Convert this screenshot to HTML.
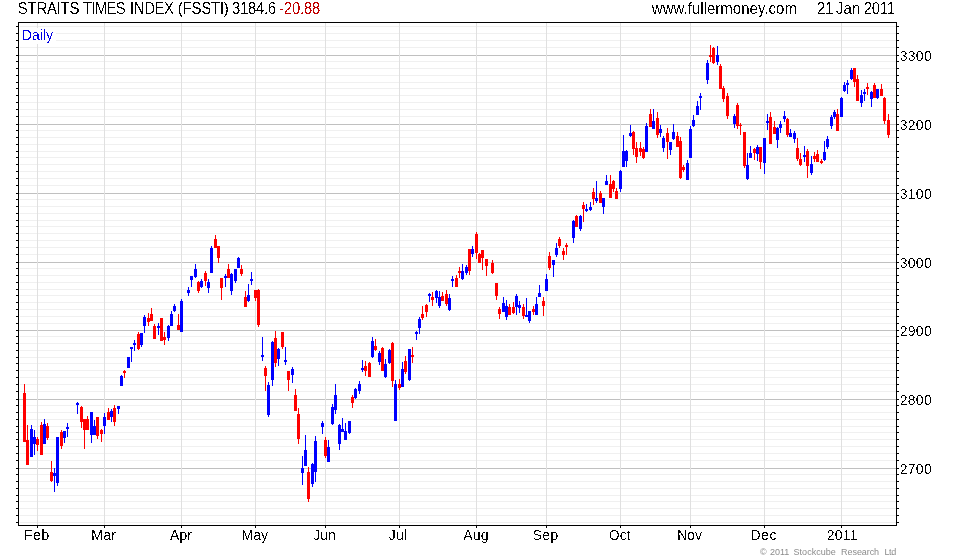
<!DOCTYPE html>
<html lang="en"><head><meta charset="utf-8"><title>STRAITS TIMES INDEX (FSSTI)</title>
<style>
html,body{margin:0;padding:0;background:#fff}
body{width:980px;height:560px;position:relative;overflow:hidden;font-family:"Liberation Sans",sans-serif;font-size:14px;color:#000}
.t{position:absolute;display:block;white-space:nowrap;line-height:20px;height:20px;filter:url(#thr)}
.h{font-size:15px;transform:scaleY(1.07);transform-origin:0 15px}
.a{font-size:14px}
.neg{color:#c00000}
.cp{font-size:9px;color:#8c8c8c;filter:none}
.d{color:#0000e6}
</style></head><body>
<svg width="0" height="0" style="position:absolute"><defs><filter id="thr" x="0" y="0" width="100%" height="100%" color-interpolation-filters="sRGB"><feComponentTransfer><feFuncA type="discrete" tableValues="0 0 0 0 0 0 0 0 0 0 0 1 1 1 1 1 1 1 1 1"/></feComponentTransfer></filter></defs></svg>
<svg width="980" height="560" viewBox="0 0 980 560" shape-rendering="crispEdges" style="position:absolute;left:0;top:0">
<g fill="#f0f0f0">
<rect x="20" y="26" width="876" height="1"/>
<rect x="20" y="33" width="876" height="1"/>
<rect x="20" y="40" width="876" height="1"/>
<rect x="20" y="47" width="876" height="1"/>
<rect x="20" y="61" width="876" height="1"/>
<rect x="20" y="68" width="876" height="1"/>
<rect x="20" y="75" width="876" height="1"/>
<rect x="20" y="82" width="876" height="1"/>
<rect x="20" y="88" width="876" height="1"/>
<rect x="20" y="95" width="876" height="1"/>
<rect x="20" y="102" width="876" height="1"/>
<rect x="20" y="109" width="876" height="1"/>
<rect x="20" y="116" width="876" height="1"/>
<rect x="20" y="130" width="876" height="1"/>
<rect x="20" y="137" width="876" height="1"/>
<rect x="20" y="144" width="876" height="1"/>
<rect x="20" y="151" width="876" height="1"/>
<rect x="20" y="157" width="876" height="1"/>
<rect x="20" y="164" width="876" height="1"/>
<rect x="20" y="171" width="876" height="1"/>
<rect x="20" y="178" width="876" height="1"/>
<rect x="20" y="185" width="876" height="1"/>
<rect x="20" y="199" width="876" height="1"/>
<rect x="20" y="206" width="876" height="1"/>
<rect x="20" y="213" width="876" height="1"/>
<rect x="20" y="220" width="876" height="1"/>
<rect x="20" y="226" width="876" height="1"/>
<rect x="20" y="233" width="876" height="1"/>
<rect x="20" y="240" width="876" height="1"/>
<rect x="20" y="247" width="876" height="1"/>
<rect x="20" y="254" width="876" height="1"/>
<rect x="20" y="268" width="876" height="1"/>
<rect x="20" y="275" width="876" height="1"/>
<rect x="20" y="282" width="876" height="1"/>
<rect x="20" y="289" width="876" height="1"/>
<rect x="20" y="295" width="876" height="1"/>
<rect x="20" y="302" width="876" height="1"/>
<rect x="20" y="309" width="876" height="1"/>
<rect x="20" y="316" width="876" height="1"/>
<rect x="20" y="323" width="876" height="1"/>
<rect x="20" y="336" width="876" height="1"/>
<rect x="20" y="343" width="876" height="1"/>
<rect x="20" y="350" width="876" height="1"/>
<rect x="20" y="357" width="876" height="1"/>
<rect x="20" y="363" width="876" height="1"/>
<rect x="20" y="370" width="876" height="1"/>
<rect x="20" y="377" width="876" height="1"/>
<rect x="20" y="384" width="876" height="1"/>
<rect x="20" y="391" width="876" height="1"/>
<rect x="20" y="405" width="876" height="1"/>
<rect x="20" y="412" width="876" height="1"/>
<rect x="20" y="419" width="876" height="1"/>
<rect x="20" y="426" width="876" height="1"/>
<rect x="20" y="432" width="876" height="1"/>
<rect x="20" y="439" width="876" height="1"/>
<rect x="20" y="446" width="876" height="1"/>
<rect x="20" y="453" width="876" height="1"/>
<rect x="20" y="460" width="876" height="1"/>
<rect x="20" y="474" width="876" height="1"/>
<rect x="20" y="481" width="876" height="1"/>
<rect x="20" y="488" width="876" height="1"/>
<rect x="20" y="495" width="876" height="1"/>
<rect x="20" y="501" width="876" height="1"/>
<rect x="20" y="508" width="876" height="1"/>
<rect x="20" y="515" width="876" height="1"/>
<rect x="20" y="522" width="876" height="1"/>
</g>
<g fill="#c0c0c0">
<rect x="19" y="55" width="877" height="1"/>
<rect x="19" y="124" width="877" height="1"/>
<rect x="19" y="193" width="877" height="1"/>
<rect x="19" y="262" width="877" height="1"/>
<rect x="19" y="330" width="877" height="1"/>
<rect x="19" y="399" width="877" height="1"/>
<rect x="19" y="468" width="877" height="1"/>
</g>
<g fill="#e0e0e0">
<rect x="37" y="23" width="1" height="502"/>
<rect x="104" y="23" width="1" height="502"/>
<rect x="181" y="23" width="1" height="502"/>
<rect x="255" y="23" width="1" height="502"/>
<rect x="325" y="23" width="1" height="502"/>
<rect x="399" y="23" width="1" height="502"/>
<rect x="476" y="23" width="1" height="502"/>
<rect x="546" y="23" width="1" height="502"/>
<rect x="620" y="23" width="1" height="502"/>
<rect x="690" y="23" width="1" height="502"/>
<rect x="764" y="23" width="1" height="502"/>
<rect x="841" y="23" width="1" height="502"/>
</g>
<rect x="19" y="28" width="37" height="16" fill="#fff"/>
<g><path fill="#f00" d="M24 384h1v58h-1zM23 393h3v49h-3z"/>
<path fill="#f00" d="M27 425h1v40h-1zM26 440h3v25h-3z"/>
<path fill="#00f" d="M31 425h1v32h-1zM30 429h3v28h-3z"/>
<path fill="#00f" d="M34 430h1v25h-1zM33 437h3v7h-3z"/>
<path fill="#f00" d="M37 437h1v14h-1zM36 439h3v6h-3z"/>
<path fill="#f00" d="M41 422h1v33h-1zM40 425h3v30h-3z"/>
<path fill="#00f" d="M44 419h1v25h-1zM43 424h3v20h-3z"/>
<path fill="#f00" d="M47 423h1v17h-1zM46 426h3v12h-3z"/>
<path fill="#f00" d="M51 461h1v21h-1zM50 472h3v9h-3z"/>
<path fill="#00f" d="M54 468h1v24h-1zM53 473h3v3h-3z"/>
<path fill="#00f" d="M57 437h1v49h-1zM56 437h3v46h-3z"/>
<path fill="#f00" d="M61 430h1v19h-1zM60 432h3v14h-3z"/>
<path fill="#00f" d="M64 431h1v12h-1zM63 431h3v7h-3z"/>
<path fill="#00f" d="M67 423h1v14h-1zM66 427h3v2h-3z"/>
<path fill="#00f" d="M77 402h1v12h-1zM76 403h3v2h-3z"/>
<path fill="#f00" d="M81 406h1v22h-1zM80 407h3v15h-3z"/>
<path fill="#f00" d="M84 419h1v30h-1zM83 419h3v11h-3z"/>
<path fill="#f00" d="M87 416h1v14h-1zM86 419h3v11h-3z"/>
<path fill="#00f" d="M91 412h1v31h-1zM90 412h3v23h-3z"/>
<path fill="#00f" d="M94 420h1v15h-1zM93 426h3v9h-3z"/>
<path fill="#f00" d="M97 417h1v22h-1zM96 417h3v19h-3z"/>
<path fill="#f00" d="M101 429h1v13h-1zM100 430h3v4h-3z"/>
<path fill="#00f" d="M104 413h1v21h-1zM103 417h3v9h-3z"/>
<path fill="#f00" d="M108 408h1v12h-1zM107 412h3v8h-3z"/>
<path fill="#00f" d="M111 409h1v13h-1zM110 411h3v6h-3z"/>
<path fill="#f00" d="M114 405h1v21h-1zM113 408h3v14h-3z"/>
<path fill="#00f" d="M118 406h1v8h-1zM117 406h3v3h-3z"/>
<path fill="#00f" d="M121 375h1v11h-1zM120 376h3v10h-3z"/>
<path fill="#f00" d="M124 370h1v8h-1zM123 371h3v2h-3z"/>
<path fill="#00f" d="M127 357h3v11h-3z"/>
<path fill="#00f" d="M131 347h1v15h-1zM130 347h3v2h-3z"/>
<path fill="#00f" d="M134 340h1v11h-1zM133 343h3v2h-3z"/>
<path fill="#f00" d="M138 332h1v18h-1zM137 334h3v15h-3z"/>
<path fill="#00f" d="M141 333h1v14h-1zM140 333h3v12h-3z"/>
<path fill="#00f" d="M144 315h1v18h-1zM143 317h3v9h-3z"/>
<path fill="#f00" d="M148 313h1v13h-1zM147 318h3v4h-3z"/>
<path fill="#f00" d="M151 308h1v13h-1zM150 314h3v7h-3z"/>
<path fill="#f00" d="M154 324h1v15h-1zM153 326h3v13h-3z"/>
<path fill="#00f" d="M158 323h1v12h-1zM157 326h3v2h-3z"/>
<path fill="#f00" d="M160 318h3v23h-3z"/>
<path fill="#f00" d="M164 332h1v13h-1zM163 337h3v3h-3z"/>
<path fill="#00f" d="M168 325h1v16h-1zM167 326h3v12h-3z"/>
<path fill="#00f" d="M171 311h1v15h-1zM170 314h3v12h-3z"/>
<path fill="#00f" d="M174 304h1v8h-1zM173 306h3v5h-3z"/>
<path fill="#f00" d="M178 314h1v16h-1zM177 325h3v5h-3z"/>
<path fill="#00f" d="M181 299h1v33h-1zM180 301h3v31h-3z"/>
<path fill="#00f" d="M188 287h1v9h-1zM187 290h3v3h-3z"/>
<path fill="#00f" d="M191 276h1v11h-1zM190 276h3v4h-3z"/>
<path fill="#00f" d="M195 264h1v14h-1zM194 269h3v8h-3z"/>
<path fill="#f00" d="M198 281h1v12h-1zM197 282h3v9h-3z"/>
<path fill="#00f" d="M201 279h1v9h-1zM200 281h3v6h-3z"/>
<path fill="#f00" d="M205 271h1v15h-1zM204 273h3v8h-3z"/>
<path fill="#00f" d="M208 279h1v14h-1zM207 282h3v6h-3z"/>
<path fill="#00f" d="M211 246h1v27h-1zM210 248h3v25h-3z"/>
<path fill="#f00" d="M215 235h1v13h-1zM214 239h3v9h-3z"/>
<path fill="#f00" d="M218 246h1v17h-1zM217 246h3v12h-3z"/>
<path fill="#f00" d="M221 278h1v22h-1zM220 278h3v10h-3z"/>
<path fill="#00f" d="M225 274h1v13h-1zM224 276h3v2h-3z"/>
<path fill="#f00" d="M228 264h1v14h-1zM227 269h3v9h-3z"/>
<path fill="#00f" d="M231 273h1v22h-1zM230 274h3v17h-3z"/>
<path fill="#00f" d="M235 269h1v14h-1zM234 269h3v12h-3z"/>
<path fill="#00f" d="M238 257h1v11h-1zM237 258h3v10h-3z"/>
<path fill="#f00" d="M241 265h1v11h-1zM240 269h3v5h-3z"/>
<path fill="#f00" d="M245 291h1v16h-1zM244 297h3v10h-3z"/>
<path fill="#00f" d="M248 284h1v18h-1zM247 295h3v6h-3z"/>
<path fill="#00f" d="M251 272h1v13h-1zM250 279h3v2h-3z"/>
<path fill="#f00" d="M255 290h1v11h-1zM254 290h3v8h-3z"/>
<path fill="#f00" d="M258 289h1v38h-1zM257 290h3v35h-3z"/>
<path fill="#00f" d="M262 337h1v24h-1zM261 355h3v2h-3z"/>
<path fill="#f00" d="M265 366h1v25h-1zM264 368h3v8h-3z"/>
<path fill="#00f" d="M268 382h1v35h-1zM267 385h3v30h-3z"/>
<path fill="#00f" d="M272 341h1v45h-1zM271 342h3v38h-3z"/>
<path fill="#f00" d="M275 331h1v36h-1zM274 338h3v25h-3z"/>
<path fill="#00f" d="M278 348h1v18h-1zM277 349h3v10h-3z"/>
<path fill="#f00" d="M282 332h1v17h-1zM281 332h3v15h-3z"/>
<path fill="#00f" d="M285 347h1v18h-1zM284 360h3v2h-3z"/>
<path fill="#f00" d="M288 371h1v20h-1zM287 371h3v9h-3z"/>
<path fill="#00f" d="M292 367h1v16h-1zM291 369h3v6h-3z"/>
<path fill="#f00" d="M295 389h1v22h-1zM294 395h3v16h-3z"/>
<path fill="#f00" d="M298 408h1v36h-1zM297 414h3v25h-3z"/>
<path fill="#00f" d="M302 456h1v29h-1zM301 468h3v5h-3z"/>
<path fill="#00f" d="M305 435h1v31h-1zM304 450h3v16h-3z"/>
<path fill="#f00" d="M308 467h1v35h-1zM307 472h3v27h-3z"/>
<path fill="#00f" d="M312 463h1v24h-1zM311 464h3v20h-3z"/>
<path fill="#00f" d="M315 436h1v46h-1zM314 441h3v31h-3z"/>
<path fill="#00f" d="M322 421h1v13h-1zM321 423h3v4h-3z"/>
<path fill="#f00" d="M325 437h1v21h-1zM324 440h3v16h-3z"/>
<path fill="#00f" d="M328 440h1v22h-1zM327 447h3v15h-3z"/>
<path fill="#00f" d="M332 404h1v21h-1zM331 407h3v17h-3z"/>
<path fill="#00f" d="M335 384h1v30h-1zM334 395h3v15h-3z"/>
<path fill="#00f" d="M339 424h1v26h-1zM338 425h3v19h-3z"/>
<path fill="#00f" d="M342 418h1v14h-1zM341 429h3v3h-3z"/>
<path fill="#00f" d="M345 423h1v17h-1zM344 431h3v9h-3z"/>
<path fill="#00f" d="M349 421h1v13h-1zM348 421h3v12h-3z"/>
<path fill="#f00" d="M352 395h1v13h-1zM351 397h3v6h-3z"/>
<path fill="#00f" d="M355 388h1v11h-1zM354 389h3v9h-3z"/>
<path fill="#00f" d="M359 381h1v13h-1zM358 384h3v7h-3z"/>
<path fill="#00f" d="M362 360h1v12h-1zM361 368h3v2h-3z"/>
<path fill="#f00" d="M365 361h1v15h-1zM364 366h3v5h-3z"/>
<path fill="#f00" d="M369 362h1v15h-1zM368 363h3v14h-3z"/>
<path fill="#00f" d="M372 337h1v21h-1zM371 341h3v16h-3z"/>
<path fill="#f00" d="M375 339h1v12h-1zM374 346h3v4h-3z"/>
<path fill="#00f" d="M379 351h1v14h-1zM378 353h3v9h-3z"/>
<path fill="#f00" d="M382 347h1v24h-1zM381 348h3v23h-3z"/>
<path fill="#00f" d="M385 359h1v19h-1zM384 364h3v13h-3z"/>
<path fill="#00f" d="M389 349h1v15h-1zM388 350h3v13h-3z"/>
<path fill="#f00" d="M392 342h1v45h-1zM391 343h3v38h-3z"/>
<path fill="#00f" d="M395 380h1v41h-1zM394 384h3v37h-3z"/>
<path fill="#f00" d="M399 379h1v11h-1zM398 384h3v4h-3z"/>
<path fill="#00f" d="M402 362h1v25h-1zM401 369h3v18h-3z"/>
<path fill="#f00" d="M405 356h1v18h-1zM404 361h3v11h-3z"/>
<path fill="#00f" d="M409 349h1v32h-1zM408 349h3v31h-3z"/>
<path fill="#f00" d="M412 347h1v16h-1zM411 355h3v2h-3z"/>
<path fill="#00f" d="M416 331h1v9h-1zM415 332h3v2h-3z"/>
<path fill="#00f" d="M419 317h1v17h-1zM418 319h3v9h-3z"/>
<path fill="#f00" d="M422 306h1v14h-1zM421 314h3v4h-3z"/>
<path fill="#f00" d="M426 304h1v13h-1zM425 305h3v7h-3z"/>
<path fill="#00f" d="M429 293h1v9h-1zM428 294h3v2h-3z"/>
<path fill="#f00" d="M432 292h1v14h-1zM431 297h3v3h-3z"/>
<path fill="#00f" d="M436 290h1v13h-1zM435 291h3v7h-3z"/>
<path fill="#00f" d="M439 291h1v17h-1zM438 297h3v9h-3z"/>
<path fill="#f00" d="M442 292h1v9h-1zM441 296h3v5h-3z"/>
<path fill="#f00" d="M446 290h1v16h-1zM445 294h3v10h-3z"/>
<path fill="#00f" d="M449 294h1v17h-1zM448 298h3v12h-3z"/>
<path fill="#00f" d="M452 276h1v11h-1zM451 279h3v2h-3z"/>
<path fill="#f00" d="M456 275h1v12h-1zM455 278h3v9h-3z"/>
<path fill="#f00" d="M459 267h1v11h-1zM458 271h3v2h-3z"/>
<path fill="#00f" d="M462 264h1v16h-1zM461 271h3v8h-3z"/>
<path fill="#00f" d="M466 265h1v10h-1zM465 267h3v6h-3z"/>
<path fill="#f00" d="M469 249h1v26h-1zM468 249h3v22h-3z"/>
<path fill="#00f" d="M472 246h1v11h-1zM471 249h3v5h-3z"/>
<path fill="#f00" d="M476 232h1v27h-1zM475 234h3v19h-3z"/>
<path fill="#f00" d="M479 253h1v10h-1zM478 254h3v9h-3z"/>
<path fill="#f00" d="M482 250h1v20h-1zM481 250h3v8h-3z"/>
<path fill="#f00" d="M486 259h1v17h-1zM485 259h3v7h-3z"/>
<path fill="#f00" d="M492 260h1v14h-1zM491 263h3v10h-3z"/>
<path fill="#f00" d="M496 283h1v17h-1zM495 283h3v13h-3z"/>
<path fill="#f00" d="M499 307h1v12h-1zM498 309h3v5h-3z"/>
<path fill="#00f" d="M503 297h1v15h-1zM502 303h3v9h-3z"/>
<path fill="#00f" d="M506 300h1v20h-1zM505 306h3v11h-3z"/>
<path fill="#f00" d="M509 304h1v11h-1zM508 307h3v8h-3z"/>
<path fill="#f00" d="M513 302h1v12h-1zM512 307h3v6h-3z"/>
<path fill="#00f" d="M516 294h1v21h-1zM515 296h3v11h-3z"/>
<path fill="#00f" d="M519 301h1v12h-1zM518 305h3v3h-3z"/>
<path fill="#f00" d="M523 304h1v15h-1zM522 307h3v9h-3z"/>
<path fill="#00f" d="M526 298h1v19h-1zM525 315h3v2h-3z"/>
<path fill="#00f" d="M529 311h1v12h-1zM528 311h3v10h-3z"/>
<path fill="#f00" d="M533 306h1v9h-1zM532 309h3v3h-3z"/>
<path fill="#00f" d="M536 297h1v18h-1zM535 304h3v11h-3z"/>
<path fill="#00f" d="M539 285h1v12h-1zM538 293h3v4h-3z"/>
<path fill="#f00" d="M543 297h1v19h-1zM542 301h3v5h-3z"/>
<path fill="#00f" d="M546 274h1v17h-1zM545 279h3v12h-3z"/>
<path fill="#f00" d="M549 252h1v18h-1zM548 256h3v12h-3z"/>
<path fill="#00f" d="M553 260h1v17h-1zM552 260h3v5h-3z"/>
<path fill="#00f" d="M556 243h1v14h-1zM555 248h3v7h-3z"/>
<path fill="#f00" d="M559 237h1v11h-1zM558 239h3v7h-3z"/>
<path fill="#f00" d="M563 248h1v12h-1zM562 251h3v4h-3z"/>
<path fill="#f00" d="M566 243h1v12h-1zM565 245h3v2h-3z"/>
<path fill="#00f" d="M573 220h1v23h-1zM572 221h3v17h-3z"/>
<path fill="#f00" d="M576 215h1v12h-1zM575 216h3v11h-3z"/>
<path fill="#00f" d="M580 215h1v16h-1zM579 216h3v13h-3z"/>
<path fill="#f00" d="M583 202h1v20h-1zM582 205h3v4h-3z"/>
<path fill="#00f" d="M586 204h1v8h-1zM585 209h3v2h-3z"/>
<path fill="#00f" d="M590 202h1v9h-1zM589 207h3v3h-3z"/>
<path fill="#f00" d="M593 188h1v17h-1zM592 192h3v7h-3z"/>
<path fill="#00f" d="M596 181h1v22h-1zM595 198h3v3h-3z"/>
<path fill="#f00" d="M600 191h1v12h-1zM599 193h3v10h-3z"/>
<path fill="#00f" d="M603 198h1v16h-1zM602 198h3v9h-3z"/>
<path fill="#00f" d="M606 175h1v10h-1zM605 181h3v4h-3z"/>
<path fill="#f00" d="M610 175h1v23h-1zM609 184h3v14h-3z"/>
<path fill="#f00" d="M613 180h1v12h-1zM612 181h3v8h-3z"/>
<path fill="#f00" d="M616 188h1v11h-1zM615 191h3v8h-3z"/>
<path fill="#00f" d="M620 170h1v22h-1zM619 171h3v18h-3z"/>
<path fill="#00f" d="M623 135h1v32h-1zM622 151h3v16h-3z"/>
<path fill="#00f" d="M626 150h1v17h-1zM625 151h3v10h-3z"/>
<path fill="#00f" d="M630 125h1v12h-1zM629 133h3v3h-3z"/>
<path fill="#f00" d="M633 131h1v24h-1zM632 132h3v17h-3z"/>
<path fill="#f00" d="M636 142h1v21h-1zM635 148h3v9h-3z"/>
<path fill="#f00" d="M640 142h1v14h-1zM639 148h3v4h-3z"/>
<path fill="#f00" d="M643 147h1v12h-1zM642 149h3v9h-3z"/>
<path fill="#00f" d="M646 123h1v29h-1zM645 126h3v26h-3z"/>
<path fill="#f00" d="M650 109h1v18h-1zM649 114h3v13h-3z"/>
<path fill="#00f" d="M653 109h1v20h-1zM652 121h3v8h-3z"/>
<path fill="#f00" d="M657 112h1v26h-1zM656 118h3v17h-3z"/>
<path fill="#00f" d="M660 125h1v12h-1zM659 129h3v4h-3z"/>
<path fill="#00f" d="M663 136h1v16h-1zM662 138h3v10h-3z"/>
<path fill="#f00" d="M667 128h1v31h-1zM666 133h3v9h-3z"/>
<path fill="#00f" d="M670 142h1v13h-1zM669 142h3v8h-3z"/>
<path fill="#00f" d="M673 124h1v16h-1zM672 132h3v7h-3z"/>
<path fill="#f00" d="M677 132h1v15h-1zM676 136h3v11h-3z"/>
<path fill="#f00" d="M680 137h1v42h-1zM679 141h3v37h-3z"/>
<path fill="#f00" d="M683 165h1v7h-1zM682 167h3v3h-3z"/>
<path fill="#00f" d="M687 160h1v20h-1zM686 163h3v17h-3z"/>
<path fill="#00f" d="M690 126h1v32h-1zM689 129h3v29h-3z"/>
<path fill="#00f" d="M693 115h1v12h-1zM692 120h3v6h-3z"/>
<path fill="#00f" d="M697 101h1v14h-1zM696 106h3v9h-3z"/>
<path fill="#00f" d="M700 93h1v17h-1zM699 96h3v2h-3z"/>
<path fill="#00f" d="M707 60h1v24h-1zM706 63h3v17h-3z"/>
<path fill="#f00" d="M710 45h1v17h-1zM709 55h3v2h-3z"/>
<path fill="#f00" d="M713 47h1v17h-1zM712 48h3v15h-3z"/>
<path fill="#00f" d="M717 46h1v19h-1zM716 55h3v7h-3z"/>
<path fill="#f00" d="M720 64h1v25h-1zM719 66h3v23h-3z"/>
<path fill="#f00" d="M723 86h1v16h-1zM722 88h3v11h-3z"/>
<path fill="#f00" d="M727 93h1v26h-1zM726 96h3v20h-3z"/>
<path fill="#00f" d="M734 114h1v14h-1zM733 116h3v8h-3z"/>
<path fill="#f00" d="M737 103h1v26h-1zM736 105h3v21h-3z"/>
<path fill="#f00" d="M740 123h1v12h-1zM739 125h3v1h-3z"/>
<path fill="#f00" d="M744 132h1v36h-1zM743 132h3v34h-3z"/>
<path fill="#00f" d="M747 153h1v27h-1zM746 165h3v14h-3z"/>
<path fill="#00f" d="M750 146h1v12h-1zM749 153h3v5h-3z"/>
<path fill="#f00" d="M754 148h1v12h-1zM753 149h3v4h-3z"/>
<path fill="#00f" d="M757 145h1v16h-1zM756 147h3v7h-3z"/>
<path fill="#f00" d="M760 147h1v22h-1zM759 147h3v15h-3z"/>
<path fill="#00f" d="M764 138h1v36h-1zM763 138h3v25h-3z"/>
<path fill="#00f" d="M767 114h1v16h-1zM766 121h3v2h-3z"/>
<path fill="#f00" d="M770 112h1v32h-1zM769 117h3v27h-3z"/>
<path fill="#f00" d="M774 121h1v13h-1zM773 127h3v7h-3z"/>
<path fill="#00f" d="M777 127h1v21h-1zM776 128h3v12h-3z"/>
<path fill="#00f" d="M780 121h1v12h-1zM779 124h3v4h-3z"/>
<path fill="#00f" d="M784 111h1v11h-1zM783 116h3v3h-3z"/>
<path fill="#f00" d="M787 118h1v19h-1zM786 119h3v16h-3z"/>
<path fill="#00f" d="M790 129h1v8h-1zM789 133h3v4h-3z"/>
<path fill="#00f" d="M794 131h1v12h-1zM793 133h3v6h-3z"/>
<path fill="#f00" d="M797 138h1v23h-1zM796 148h3v11h-3z"/>
<path fill="#f00" d="M800 153h1v13h-1zM799 159h3v6h-3z"/>
<path fill="#00f" d="M804 146h1v16h-1zM803 155h3v2h-3z"/>
<path fill="#f00" d="M807 149h1v29h-1zM806 151h3v15h-3z"/>
<path fill="#00f" d="M811 156h1v19h-1zM810 164h3v9h-3z"/>
<path fill="#f00" d="M814 152h1v10h-1zM813 156h3v3h-3z"/>
<path fill="#f00" d="M817 150h1v12h-1zM816 154h3v8h-3z"/>
<path fill="#f00" d="M821 159h1v5h-1zM820 161h3v2h-3z"/>
<path fill="#00f" d="M824 141h1v20h-1zM823 152h3v8h-3z"/>
<path fill="#00f" d="M827 136h1v13h-1zM826 139h3v8h-3z"/>
<path fill="#00f" d="M831 115h1v14h-1zM830 117h3v9h-3z"/>
<path fill="#00f" d="M834 110h1v9h-1zM833 112h3v5h-3z"/>
<path fill="#f00" d="M837 109h1v22h-1zM836 114h3v17h-3z"/>
<path fill="#00f" d="M841 97h1v20h-1zM840 98h3v19h-3z"/>
<path fill="#00f" d="M844 82h1v10h-1zM843 85h3v6h-3z"/>
<path fill="#00f" d="M847 80h1v14h-1zM846 83h3v2h-3z"/>
<path fill="#00f" d="M851 68h1v12h-1zM850 70h3v9h-3z"/>
<path fill="#f00" d="M854 68h1v19h-1zM853 68h3v14h-3z"/>
<path fill="#f00" d="M857 75h1v26h-1zM856 79h3v22h-3z"/>
<path fill="#00f" d="M861 90h1v17h-1zM860 95h3v8h-3z"/>
<path fill="#00f" d="M864 89h1v12h-1zM863 92h3v2h-3z"/>
<path fill="#f00" d="M867 83h1v12h-1zM866 87h3v2h-3z"/>
<path fill="#00f" d="M871 91h1v16h-1zM870 92h3v7h-3z"/>
<path fill="#f00" d="M874 83h1v15h-1zM873 85h3v13h-3z"/>
<path fill="#00f" d="M877 89h1v10h-1zM876 89h3v9h-3z"/>
<path fill="#f00" d="M881 84h1v12h-1zM880 89h3v7h-3z"/>
<path fill="#f00" d="M884 97h1v27h-1zM883 98h3v23h-3z"/>
<path fill="#f00" d="M888 114h1v24h-1zM887 120h3v15h-3z"/></g>
<g fill="#000">
<rect x="18" y="22" width="879" height="1"/>
<rect x="18" y="525" width="879" height="1"/>
<rect x="18" y="22" width="1" height="504"/>
<rect x="896" y="22" width="1" height="504"/>
<rect x="16" y="26" width="2" height="1"/>
<rect x="897" y="26" width="2" height="1"/>
<rect x="16" y="33" width="2" height="1"/>
<rect x="897" y="33" width="2" height="1"/>
<rect x="16" y="40" width="2" height="1"/>
<rect x="897" y="40" width="2" height="1"/>
<rect x="16" y="47" width="2" height="1"/>
<rect x="897" y="47" width="2" height="1"/>
<rect x="16" y="61" width="2" height="1"/>
<rect x="897" y="61" width="2" height="1"/>
<rect x="16" y="68" width="2" height="1"/>
<rect x="897" y="68" width="2" height="1"/>
<rect x="16" y="75" width="2" height="1"/>
<rect x="897" y="75" width="2" height="1"/>
<rect x="16" y="82" width="2" height="1"/>
<rect x="897" y="82" width="2" height="1"/>
<rect x="16" y="88" width="2" height="1"/>
<rect x="897" y="88" width="2" height="1"/>
<rect x="16" y="95" width="2" height="1"/>
<rect x="897" y="95" width="2" height="1"/>
<rect x="16" y="102" width="2" height="1"/>
<rect x="897" y="102" width="2" height="1"/>
<rect x="16" y="109" width="2" height="1"/>
<rect x="897" y="109" width="2" height="1"/>
<rect x="16" y="116" width="2" height="1"/>
<rect x="897" y="116" width="2" height="1"/>
<rect x="16" y="130" width="2" height="1"/>
<rect x="897" y="130" width="2" height="1"/>
<rect x="16" y="137" width="2" height="1"/>
<rect x="897" y="137" width="2" height="1"/>
<rect x="16" y="144" width="2" height="1"/>
<rect x="897" y="144" width="2" height="1"/>
<rect x="16" y="151" width="2" height="1"/>
<rect x="897" y="151" width="2" height="1"/>
<rect x="16" y="157" width="2" height="1"/>
<rect x="897" y="157" width="2" height="1"/>
<rect x="16" y="164" width="2" height="1"/>
<rect x="897" y="164" width="2" height="1"/>
<rect x="16" y="171" width="2" height="1"/>
<rect x="897" y="171" width="2" height="1"/>
<rect x="16" y="178" width="2" height="1"/>
<rect x="897" y="178" width="2" height="1"/>
<rect x="16" y="185" width="2" height="1"/>
<rect x="897" y="185" width="2" height="1"/>
<rect x="16" y="199" width="2" height="1"/>
<rect x="897" y="199" width="2" height="1"/>
<rect x="16" y="206" width="2" height="1"/>
<rect x="897" y="206" width="2" height="1"/>
<rect x="16" y="213" width="2" height="1"/>
<rect x="897" y="213" width="2" height="1"/>
<rect x="16" y="220" width="2" height="1"/>
<rect x="897" y="220" width="2" height="1"/>
<rect x="16" y="226" width="2" height="1"/>
<rect x="897" y="226" width="2" height="1"/>
<rect x="16" y="233" width="2" height="1"/>
<rect x="897" y="233" width="2" height="1"/>
<rect x="16" y="240" width="2" height="1"/>
<rect x="897" y="240" width="2" height="1"/>
<rect x="16" y="247" width="2" height="1"/>
<rect x="897" y="247" width="2" height="1"/>
<rect x="16" y="254" width="2" height="1"/>
<rect x="897" y="254" width="2" height="1"/>
<rect x="16" y="268" width="2" height="1"/>
<rect x="897" y="268" width="2" height="1"/>
<rect x="16" y="275" width="2" height="1"/>
<rect x="897" y="275" width="2" height="1"/>
<rect x="16" y="282" width="2" height="1"/>
<rect x="897" y="282" width="2" height="1"/>
<rect x="16" y="289" width="2" height="1"/>
<rect x="897" y="289" width="2" height="1"/>
<rect x="16" y="295" width="2" height="1"/>
<rect x="897" y="295" width="2" height="1"/>
<rect x="16" y="302" width="2" height="1"/>
<rect x="897" y="302" width="2" height="1"/>
<rect x="16" y="309" width="2" height="1"/>
<rect x="897" y="309" width="2" height="1"/>
<rect x="16" y="316" width="2" height="1"/>
<rect x="897" y="316" width="2" height="1"/>
<rect x="16" y="323" width="2" height="1"/>
<rect x="897" y="323" width="2" height="1"/>
<rect x="16" y="336" width="2" height="1"/>
<rect x="897" y="336" width="2" height="1"/>
<rect x="16" y="343" width="2" height="1"/>
<rect x="897" y="343" width="2" height="1"/>
<rect x="16" y="350" width="2" height="1"/>
<rect x="897" y="350" width="2" height="1"/>
<rect x="16" y="357" width="2" height="1"/>
<rect x="897" y="357" width="2" height="1"/>
<rect x="16" y="363" width="2" height="1"/>
<rect x="897" y="363" width="2" height="1"/>
<rect x="16" y="370" width="2" height="1"/>
<rect x="897" y="370" width="2" height="1"/>
<rect x="16" y="377" width="2" height="1"/>
<rect x="897" y="377" width="2" height="1"/>
<rect x="16" y="384" width="2" height="1"/>
<rect x="897" y="384" width="2" height="1"/>
<rect x="16" y="391" width="2" height="1"/>
<rect x="897" y="391" width="2" height="1"/>
<rect x="16" y="405" width="2" height="1"/>
<rect x="897" y="405" width="2" height="1"/>
<rect x="16" y="412" width="2" height="1"/>
<rect x="897" y="412" width="2" height="1"/>
<rect x="16" y="419" width="2" height="1"/>
<rect x="897" y="419" width="2" height="1"/>
<rect x="16" y="426" width="2" height="1"/>
<rect x="897" y="426" width="2" height="1"/>
<rect x="16" y="432" width="2" height="1"/>
<rect x="897" y="432" width="2" height="1"/>
<rect x="16" y="439" width="2" height="1"/>
<rect x="897" y="439" width="2" height="1"/>
<rect x="16" y="446" width="2" height="1"/>
<rect x="897" y="446" width="2" height="1"/>
<rect x="16" y="453" width="2" height="1"/>
<rect x="897" y="453" width="2" height="1"/>
<rect x="16" y="460" width="2" height="1"/>
<rect x="897" y="460" width="2" height="1"/>
<rect x="16" y="474" width="2" height="1"/>
<rect x="897" y="474" width="2" height="1"/>
<rect x="16" y="481" width="2" height="1"/>
<rect x="897" y="481" width="2" height="1"/>
<rect x="16" y="488" width="2" height="1"/>
<rect x="897" y="488" width="2" height="1"/>
<rect x="16" y="495" width="2" height="1"/>
<rect x="897" y="495" width="2" height="1"/>
<rect x="16" y="501" width="2" height="1"/>
<rect x="897" y="501" width="2" height="1"/>
<rect x="16" y="508" width="2" height="1"/>
<rect x="897" y="508" width="2" height="1"/>
<rect x="16" y="515" width="2" height="1"/>
<rect x="897" y="515" width="2" height="1"/>
<rect x="16" y="522" width="2" height="1"/>
<rect x="897" y="522" width="2" height="1"/>
<rect x="16" y="55" width="2" height="1"/>
<rect x="897" y="55" width="2" height="1"/>
<rect x="16" y="124" width="2" height="1"/>
<rect x="897" y="124" width="2" height="1"/>
<rect x="16" y="193" width="2" height="1"/>
<rect x="897" y="193" width="2" height="1"/>
<rect x="16" y="262" width="2" height="1"/>
<rect x="897" y="262" width="2" height="1"/>
<rect x="16" y="330" width="2" height="1"/>
<rect x="897" y="330" width="2" height="1"/>
<rect x="16" y="399" width="2" height="1"/>
<rect x="897" y="399" width="2" height="1"/>
<rect x="16" y="468" width="2" height="1"/>
<rect x="897" y="468" width="2" height="1"/>
<rect x="37" y="526" width="1" height="2"/>
<rect x="104" y="526" width="1" height="2"/>
<rect x="181" y="526" width="1" height="2"/>
<rect x="255" y="526" width="1" height="2"/>
<rect x="325" y="526" width="1" height="2"/>
<rect x="399" y="526" width="1" height="2"/>
<rect x="476" y="526" width="1" height="2"/>
<rect x="546" y="526" width="1" height="2"/>
<rect x="620" y="526" width="1" height="2"/>
<rect x="690" y="526" width="1" height="2"/>
<rect x="764" y="526" width="1" height="2"/>
<rect x="841" y="526" width="1" height="2"/>
</g>
</svg>
<div class="header"><span class="t h" style="left:17.8px;top:-1px;letter-spacing:-0.28px">STRAITS</span> <span class="t h" style="left:83.1px;top:-1px;letter-spacing:-0.77px">TIMES</span> <span class="t h" style="left:130.1px;top:-1px;letter-spacing:-0.48px">INDEX</span> <span class="t h" style="left:177.8px;top:-1px;letter-spacing:-0.25px">(FSSTI)</span> <span class="t h" style="left:232.0px;top:-1px;letter-spacing:-0.34px">3184.6</span> <span class="t h neg" style="left:279.1px;top:-1px;letter-spacing:-0.24px">-20.88</span> <span class="t h" style="left:651.8px;top:-1px;letter-spacing:0.02px">www.fullermoney.com</span> <span class="t h" style="left:816.9px;top:-1px;letter-spacing:-0.34px">21</span> <span class="t h" style="left:835.9px;top:-1px;letter-spacing:0.15px">Jan</span> <span class="t h" style="left:863.8px;top:-1px;letter-spacing:-0.34px">2011</span></div>
<div class="period"><span class="t a d" style="left:22.0px;top:25px">Daily</span></div>
<div class="xaxis"><span class="t a" style="left:23.8px;top:525px;letter-spacing:0.7px">Feb</span> <span class="t a" style="left:91.2px;top:525px;letter-spacing:0.3px">Mar</span> <span class="t a" style="left:170.1px;top:525px;letter-spacing:0.05px">Apr</span> <span class="t a" style="left:241.4px;top:525px;letter-spacing:0.1px">May</span> <span class="t a" style="left:313.1px;top:525px;letter-spacing:0.1px">Jun</span> <span class="t a" style="left:388.7px;top:525px;letter-spacing:0.25px">Jul</span> <span class="t a" style="left:463.2px;top:525px;letter-spacing:0.2px">Aug</span> <span class="t a" style="left:532.4px;top:525px;letter-spacing:0.45px">Sep</span> <span class="t a" style="left:608.7px;top:525px;letter-spacing:0.05px">Oct</span> <span class="t a" style="left:677.3px;top:525px;letter-spacing:-0.1px">Nov</span> <span class="t a" style="left:750.4px;top:525px;letter-spacing:0.6px">Dec</span> <span class="t a" style="left:826.7px;top:525px;letter-spacing:0.22px">2011</span></div>
<div class="yaxis"><span class="t a" style="left:899.7px;top:46px;letter-spacing:0.3px">3300</span> <span class="t a" style="left:899.7px;top:115px;letter-spacing:0.3px">3200</span> <span class="t a" style="left:899.7px;top:184px;letter-spacing:0.3px">3100</span> <span class="t a" style="left:899.7px;top:253px;letter-spacing:0.3px">3000</span> <span class="t a" style="left:899.7px;top:321px;letter-spacing:0.3px">2900</span> <span class="t a" style="left:899.7px;top:390px;letter-spacing:0.3px">2800</span> <span class="t a" style="left:899.7px;top:459px;letter-spacing:0.3px">2700</span></div>
<div class="footer"><span class="t cp" style="left:760.0px;top:542px">©</span> <span class="t cp" style="left:769.9px;top:542px">2011</span> <span class="t cp" style="left:793.6px;top:542px;letter-spacing:0.01px">Stockcube</span> <span class="t cp" style="left:841.1px;top:542px;letter-spacing:-0.07px">Research</span> <span class="t cp" style="left:884.4px;top:542px;letter-spacing:-0.3px">Ltd</span></div>
</body></html>
